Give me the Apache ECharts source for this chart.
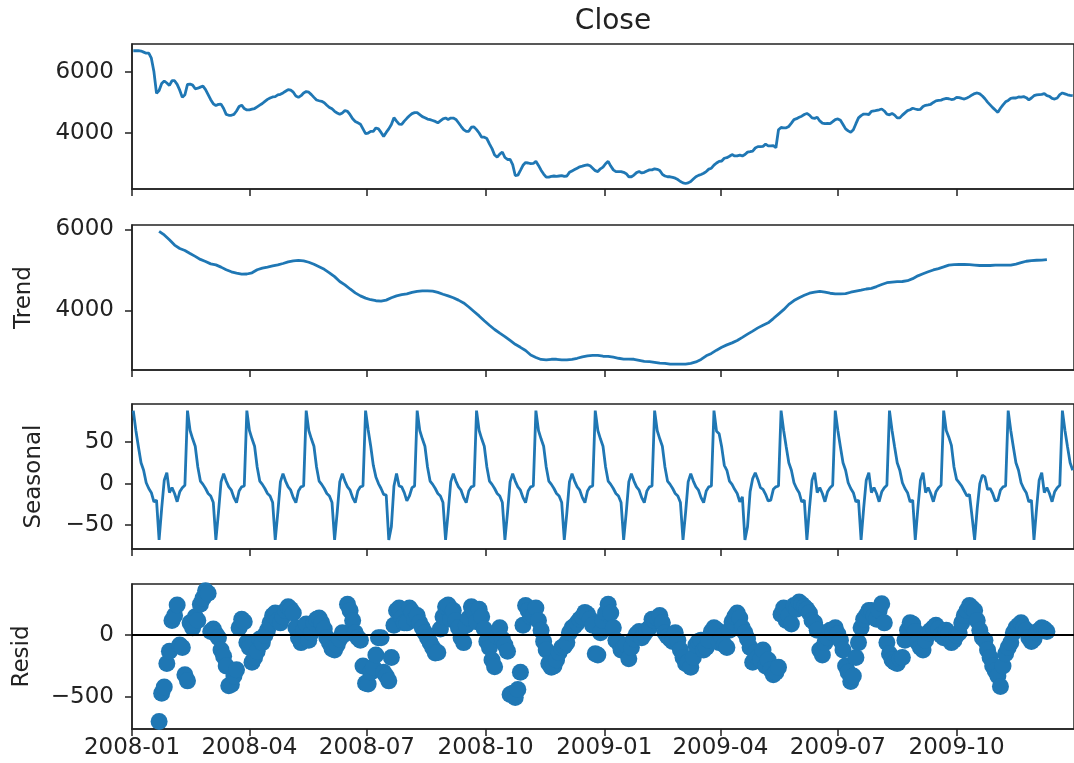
<!DOCTYPE html>
<html>
<head>
<meta charset="utf-8">
<script src="https://cdn.jsdelivr.net/npm/echarts@6/dist/echarts.min.js"></script>
<style>
  html, body { margin: 0; padding: 0; background: #fff; }
  #chart { width: 1074px; height: 763px; }
</style>
</head>
<body>
<div id="chart"></div>
<script>
// values; samples start 2008-01-02
// close, seasonal, resid: one sample every 2 days; trend: every 4 days
const fineStep = 2;
const trendStep = 4;

const close = [
  6690, 6690, 6690, 6680, 6645, 6610, 6610, 6445, 6000, 5300, 5390, 5620, 5700, 5635, 5555, 5710, 5710, 5590, 5400, 5165,
  5250, 5590, 5600, 5565, 5445, 5465, 5500, 5535, 5420, 5255, 5090, 4955, 4900, 4935, 4945, 4800, 4610, 4580, 4580, 4610,
  4720, 4865, 4910, 4800, 4755, 4755, 4780, 4800, 4855, 4910, 4965, 5035, 5100, 5145, 5180, 5190, 5245, 5265, 5310, 5365,
  5420, 5400, 5335, 5210, 5165, 5220, 5310, 5355, 5335, 5255, 5165, 5080, 5055, 5035, 4990, 4910, 4835, 4790, 4710, 4655,
  4610, 4655, 4735, 4710, 4600, 4465, 4380, 4335, 4290, 4135, 3980, 4000, 4055, 4055, 4165, 4135, 4020, 3890, 4020, 4135,
  4280, 4500, 4390, 4290, 4280, 4390, 4480, 4565, 4635, 4665, 4665, 4600, 4535, 4500, 4455, 4435, 4410, 4380, 4335, 4400,
  4465, 4490, 4445, 4490, 4490, 4445, 4335, 4220, 4110, 4055, 4055, 4190, 4200, 4110, 4000, 3865, 3865, 3820, 3645, 3490,
  3280, 3210, 3310, 3380, 3200, 3135, 3135, 2965, 2610, 2620, 2780, 2945, 3035, 3020, 3000, 3005, 3075, 2940, 2785, 2660,
  2555, 2560, 2585, 2595, 2585, 2595, 2605, 2580, 2595, 2715, 2760, 2805, 2850, 2895, 2915, 2940, 2960, 2930, 2850, 2770,
  2740, 2830, 2885, 2995, 3075, 2920, 2795, 2740, 2740, 2740, 2715, 2670, 2570, 2570, 2625, 2705, 2740, 2695, 2715, 2760,
  2795, 2795, 2830, 2815, 2775, 2650, 2595, 2570, 2570, 2550, 2525, 2480, 2415, 2370, 2350, 2370, 2415, 2495, 2570, 2615,
  2645, 2685, 2740, 2820, 2850, 2950, 3020, 3075, 3085, 3175, 3195, 3240, 3295, 3250, 3250, 3275, 3250, 3300, 3375, 3390,
  3410, 3510, 3555, 3555, 3565, 3635, 3580, 3580, 3590, 3520, 4105, 4180, 4170, 4170, 4215, 4325, 4440, 4470, 4515, 4550,
  4605, 4640, 4585, 4495, 4480, 4515, 4395, 4325, 4305, 4315, 4305, 4370, 4440, 4460, 4415, 4280, 4135, 4070, 4025, 4105,
  4305, 4495, 4570, 4620, 4615, 4605, 4705, 4720, 4740, 4760, 4785, 4720, 4615, 4595, 4640, 4585, 4495, 4495, 4585, 4660,
  4730, 4760, 4810, 4785, 4765, 4775, 4865, 4905, 4920, 4940, 5000, 5050, 5065, 5075, 5110, 5130, 5120, 5095, 5110, 5165,
  5155, 5130, 5110, 5145, 5190, 5245, 5290, 5310, 5280, 5210, 5120, 5010, 4920, 4830, 4750, 4675, 4810, 4920, 5020, 5065,
  5130, 5145, 5145, 5180, 5175, 5190, 5155, 5085, 5145, 5220, 5245, 5255, 5265, 5290, 5220, 5200, 5130, 5110, 5145, 5255,
  5310, 5280, 5250, 5230, 5220
];

const trend = [
  null, null, null, null, null, 5955, 5865, 5745, 5615, 5530,
  5480, 5405, 5335, 5260, 5210, 5150, 5125, 5070, 5005, 4955,
  4920, 4895, 4900, 4930, 5005, 5045, 5070, 5100, 5125, 5160,
  5200, 5225, 5235, 5225, 5190, 5140, 5080, 5015, 4930, 4835,
  4715, 4630, 4530, 4435, 4360, 4305, 4265, 4240, 4230, 4255,
  4315, 4360, 4390, 4410, 4445, 4470, 4485, 4485, 4475, 4445,
  4400, 4360, 4315, 4255, 4185, 4085, 3975, 3865, 3745, 3635,
  3530, 3440, 3355, 3260, 3165, 3090, 3010, 2900, 2840, 2790,
  2780, 2795, 2795, 2780, 2780, 2795, 2820, 2855, 2880, 2890,
  2890, 2870, 2865, 2845, 2820, 2800, 2800, 2795, 2770, 2745,
  2735, 2720, 2700, 2695, 2675, 2675, 2675, 2675, 2695, 2730,
  2790, 2880, 2940, 3020, 3090, 3150, 3200, 3260, 3335, 3415,
  3490, 3570, 3635, 3695, 3800, 3910, 4020, 4150, 4245, 4315,
  4375, 4425, 4450, 4470, 4450, 4425, 4410, 4410, 4415, 4450,
  4475, 4500, 4530, 4545, 4590, 4640, 4685, 4700, 4710, 4715,
  4735, 4785, 4855, 4905, 4955, 5000, 5035, 5075, 5120, 5130,
  5135, 5135, 5130, 5120, 5110, 5110, 5110, 5120, 5120, 5120,
  5120, 5145, 5180, 5215, 5230, 5240, 5245, 5255, null, null,
  null, null, null
];

// one row per seasonal cycle, each starting at its peak
const seasonal = [
  88, 64, 44, 25, 16, 1, -6, -11, -22, -20, -68, -30, 4, 13, -11, -5, -12, -22, -10, -5, -2,
  88, 64, 54, 45, 20, 3, -1, -6, -12, -15, -23, -68, -35, 2, 12, 3, -4, -8, -17, -23, -9, -4, -3,
  88, 64, 54, 45, 20, 3, -1, -6, -12, -15, -23, -68, -35, 2, 12, 3, -4, -8, -17, -23, -9, -4, -3,
  88, 64, 54, 45, 20, 3, -1, -6, -12, -15, -23, -68, -35, 2, 12, 3, -4, -8, -17, -23, -9, -4, -3,
  88, 65, 45, 22, 8, 0, -6, -13, -14, -68, -52, -3, 12, -3, -4, -11, -21, -15, -5, -3,
  88, 64, 54, 45, 20, 3, -1, -6, -12, -15, -23, -68, -35, 2, 12, 3, -4, -8, -17, -23, -9, -4, -3,
  88, 64, 54, 45, 20, 3, -1, -6, -12, -15, -23, -68, -35, 2, 12, 3, -4, -8, -17, -23, -9, -4, -3,
  88, 64, 54, 45, 20, 3, -1, -6, -12, -15, -23, -68, -35, 2, 12, 3, -4, -8, -17, -23, -9, -4, -3,
  88, 64, 54, 45, 20, 3, -1, -6, -12, -15, -23, -68, -35, 2, 12, 3, -4, -8, -17, -23, -9, -4, -3,
  88, 64, 54, 45, 20, 3, -1, -6, -12, -15, -23, -68, -35, 2, 12, 3, -4, -8, -17, -23, -9, -4, -3,
  88, 63, 60, 44, 22, 16, 3, -1, -7, -12, -22, -16, -68, -52, -10, 6, 13, 5, -5, -7, -13, -21, -20, -7, -4, -3,
  88, 64, 44, 25, 16, 1, -6, -11, -22, -20, -68, -30, 4, 13, -11, -5, -12, -22, -10, -5, -2,
  88, 64, 44, 25, 16, 1, -6, -11, -22, -20, -68, -30, 4, 13, -11, -5, -12, -22, -10, -5, -2,
  88, 64, 44, 25, 16, 1, -6, -11, -22, -20, -68, -30, 4, 13, -11, -5, -12, -22, -10, -5, -2,
  88, 64, 56, 46, 20, 5, 1, -3, -9, -15, -13, -40, -68, -30, 0, 10, 8, -7, -6, -12, -21, -20, -8, -4, -3,
  88, 64, 44, 25, 16, 1, -6, -11, -22, -20, -68, -30, 4, 13, -11, -5, -12, -22, -10, -5, -2,
  88, 64, 44, 25, 16
];

const resid = [
  null, null, null, null, null, null, null, null, null, null,
  -700, -470, -420, -230, -130, 120, 160, 245, -80, -100, -320, -370, 100, 60, 150, 120, 250, 300, 360, 340,
  30, 50, 10, -20, -120, -170, -250, -410, -400, -330, -280, 60, 130, 110, -60, -100, -220, -180, -130, -30,
  -60, 0, 40, 100, 160, 180, 120, 100, 150, 200, 230, 210, 180, 60, -20, -60, 40, 90, -40, 20,
  100, 130, 140, 100, 50, -20, -60, -110, -120, -80, -30, 20, 10, 250, 200, 120, 20, -20, -40, -250,
  -390, -395, -300, -260, -160, -20, -20, -300, -330, -370, -180, 80, 200, 220, 140, 100, 100, 220, 190, 130,
  160, 100, 60, 20, -20, -60, -100, -145, -140, 50, 150, 230, 245, 130, 200, 120, 60, -20, -60, 80,
  140, 230, 190, 110, 210, 150, 50, -50, -100, -200, -255, -10, 60, -30, -80, -130, -480, -470, -505, -440,
  -300, 80, 240, 200, 150, 160, 220, 120, 40, -50, -120, -230, -260, -250, -200, -140, -100, -90, -60, 20,
  60, 75, 100, 130, 150, 185, 170, 130, 80, -150, -160, 20, 120, 180, 250, 180, 60, -40, -60, -120,
  -100, -80, -190, -100, -30, 10, 30, -20, 10, 40, 60, 130, 120, 140, 160, 100, 20, -10, -30, -50,
  20, -40, -120, -180, -230, -220, -260, -180, -80, -50, -40, -120, -100, -40, 30, 60, 45, -60, -10, -80,
  -100, 40, 110, 150, 180, 140, 60, 20, -30, -100, -220, -140, -180, -200, -120, -250, -200, -280, -320, -300,
  -260, 170, 220, 120, 160, 90, 240, 210, 270, 250, 230, 210, 180, 120, 100, 40, -120, -160, -60, -20,
  40, 20, 60, 10, -40, -120, -250, -300, -375, -330, -180, -60, 60, 130, 160, 200, 200, 160, 130, 200,
  255, 100, -60, -150, -200, -220, -230, -190, -180, -40, 40, 100, 90, 30, -60, -100, -120, -40, 20, 40,
  60, 80, 50, 0, -20, 40, 10, -60, -40, 0, 20, 100, 160, 200, 240, 220, 200, 120, 40, -20,
  -40, -120, -180, -250, -290, -330, -415, -250, -150, -100, -60, 20, 60, 80, 100, 60, 40, -20, -50, -30,
  20, 40, 60, 50, 30,
  null, null, null, null, null, null, null, null, null, null
];

const tickLabels = ['2008-01', '2008-04', '2008-07', '2008-10', '2009-01', '2009-04', '2009-07', '2009-10'];
const closeTicks = [4000, 6000];
const trendTicks = [4000, 6000];
const seasonalTicks = [-50, 0, 50];
const residTicks = [-500, 0];

const blue = '#1f77b4';
const ink = '#222';
const font = 'DejaVu Sans';

// x is a date stored as a timestamp on a value axis
const sampleDates = (n, step) => Array.from({ length: n }, (_, i) => +new Date(2008, 0, 2 + step * i));
const pairs = (arr, step) => {
  const d = sampleDates(arr.length, step);
  return arr.map((v, i) => [d[i], v]);
};
const tickValues = tickLabels.map(s => {
  const [y, m] = s.split('-').map(Number);
  return +new Date(y, m - 1, 1);
});

const tops = [44, 225, 404, 584];
const grids = tops.map(top => ({
  left: 132, width: 952, top: top, height: 145,
  show: true, borderColor: ink, borderWidth: 1.5, backgroundColor: 'transparent'
}));

function xAxis(idx) {
  return {
    type: 'value', gridIndex: idx,
    min: +new Date(2008, 0, 1), max: +new Date(2009, 11, 31),
    axisLine: { show: true, onZero: false, lineStyle: { color: ink, width: 1.5 } },
    axisTick: { show: true, length: 7, customValues: tickValues, lineStyle: { color: ink, width: 1.5 } },
    axisLabel: {
      show: idx === 3, customValues: tickValues, margin: 8,
      fontSize: 23, fontFamily: font, color: ink,
      formatter: v => {
        const d = new Date(v);
        return d.getFullYear() + '-' + String(d.getMonth() + 1).padStart(2, '0');
      }
    },
    splitLine: { show: false }
  };
}

function yAxis(idx, min, max, ticks, name, gap) {
  return {
    type: 'value', gridIndex: idx, min: min, max: max,
    name: name, nameLocation: 'middle', nameGap: gap, nameRotate: 90,
    nameTextStyle: { fontSize: 23, fontFamily: font, color: ink },
    axisLine: { show: true, onZero: false, lineStyle: { color: ink, width: 1.5 } },
    axisTick: { show: true, length: 7, customValues: ticks, lineStyle: { color: ink, width: 1.5 } },
    axisLabel: {
      customValues: ticks, margin: 18, fontSize: 23, fontFamily: font, color: ink,
      formatter: v => String(v).replace('-', '\u2212')
    },
    splitLine: { show: false }
  };
}

const lineStyle = { color: blue, width: 2.8 };

const chart = echarts.init(document.getElementById('chart'));
chart.setOption({
  animation: false,
  backgroundColor: '#fff',
  title: {
    text: 'Close', left: 608, top: 3, textAlign: 'center',
    textStyle: { fontSize: 28, fontWeight: 'normal', fontFamily: font, color: ink }
  },
  grid: grids,
  xAxis: [0, 1, 2, 3].map(xAxis),
  yAxis: [
    yAxis(0, 2170, 6910, closeTicks, '', 0),
    yAxis(1, 2530, 6110, trendTicks, 'Trend', 96),
    yAxis(2, -79, 96, seasonalTicks, 'Seasonal', 86),
    yAxis(3, -760, 415, residTicks, 'Resid', 98)
  ],
  series: [
    { type: 'line', xAxisIndex: 0, yAxisIndex: 0, data: pairs(close, fineStep), showSymbol: false, lineStyle: lineStyle },
    { type: 'line', xAxisIndex: 1, yAxisIndex: 1, data: pairs(trend, trendStep), showSymbol: false, lineStyle: lineStyle },
    { type: 'line', xAxisIndex: 2, yAxisIndex: 2, data: pairs(seasonal, fineStep), showSymbol: false, lineStyle: lineStyle },
    {
      type: 'line', xAxisIndex: 3, yAxisIndex: 3, data: [], z: 1,
      markLine: {
        silent: true, symbol: 'none', label: { show: false },
        lineStyle: { color: '#000', width: 2, type: 'solid' },
        data: [{ yAxis: 0 }]
      }
    },
    {
      type: 'scatter', xAxisIndex: 3, yAxisIndex: 3, z: 2,
      data: pairs(resid, fineStep).filter(p => p[1] !== null),
      symbolSize: 17, itemStyle: { color: blue, opacity: 1 }
    }
  ]
});
</script>
</body>
</html>
